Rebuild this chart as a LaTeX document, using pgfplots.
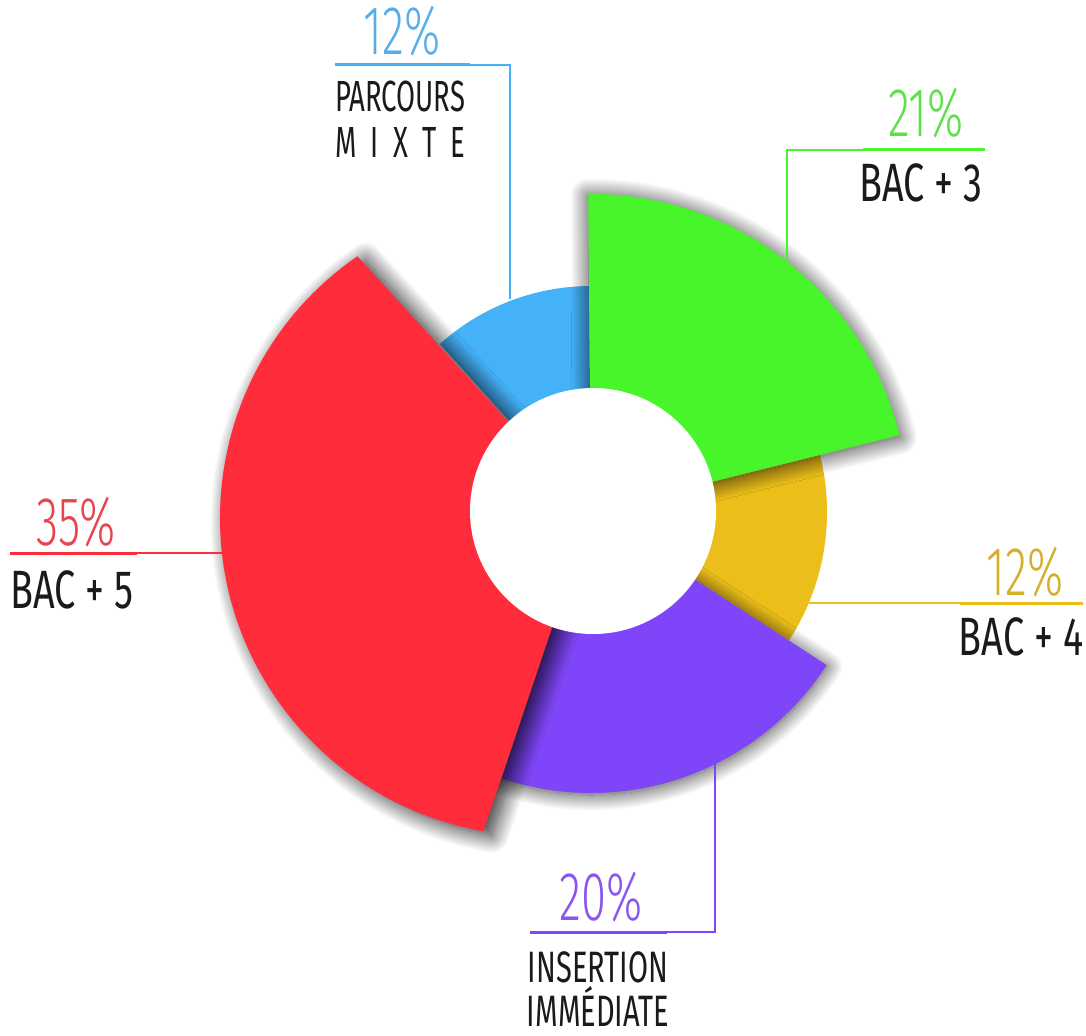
\documentclass[border=0pt]{standalone}
\usepackage{pgfplots}
\pgfplotsset{compat=1.18}
\usepackage{pgfplotstable}
\usetikzlibrary{calc,shadows.blur}
\usepackage{fontspec}
\setmainfont{Fira Sans}
\newfontfamily\pctfont{Fira Sans Light}[FakeStretch=0.66]
\newfontfamily\labfont{Fira Sans}[FakeStretch=0.7]
\newfontfamily\smfont{Fira Sans}[FakeStretch=0.63]
\newfontfamily\bfont{Fira Sans}[FakeStretch=0.66]

\definecolor{cgreen}{HTML}{48F52A}
\definecolor{cyellow}{HTML}{EBBE1A}
\definecolor{cpurple}{HTML}{7F45F8}
\definecolor{cred}{HTML}{FF2D3B}
\definecolor{cblue}{HTML}{45B1F8}
\definecolor{tgreen}{HTML}{5EE04A}
\definecolor{tyellow}{HTML}{D4B02A}
\definecolor{tpurple}{HTML}{8A55F0}
\definecolor{tred}{HTML}{E8434F}
\definecolor{tblue}{HTML}{56AEE8}
\definecolor{tdark}{HTML}{1A1A1A}

% sectors, in drawing order (pct = share shown in label)
\pgfplotstableread{
name   pct cx  cy  r   a1     a2    col     sx  sy  blur op
bac4   12  591 523 236 -33    14    cyellow 0   0   0    0
mixte  12  591 523 226 90.5   132   cblue   0   0   0    0
insert 20  591 523 281 -108.5 -33   cpurple 0   -1  8    75
bac3   21  591 523 318 14     90.5  cgreen  0   -1  9    80
bac5   35  538 517 318 124.6  260.1 cred    4   -2  9    85
}\sectors

\newcommand\drawsector[1]{%
  \pgfplotstablegetelem{#1}{cx}\of\sectors\let\scx\pgfplotsretval
  \pgfplotstablegetelem{#1}{cy}\of\sectors\let\scy\pgfplotsretval
  \pgfplotstablegetelem{#1}{r}\of\sectors\pgfmathsetmacro\sr{\pgfplotsretval*0.5}%
  \pgfplotstablegetelem{#1}{a1}\of\sectors\let\sa\pgfplotsretval
  \pgfplotstablegetelem{#1}{a2}\of\sectors\let\sb\pgfplotsretval
  \pgfplotstablegetelem{#1}{col}\of\sectors\let\scol\pgfplotsretval
  \pgfplotstablegetelem{#1}{sx}\of\sectors\let\ssx\pgfplotsretval
  \pgfplotstablegetelem{#1}{sy}\of\sectors\let\ssy\pgfplotsretval
  \pgfplotstablegetelem{#1}{blur}\of\sectors\let\sblur\pgfplotsretval
  \pgfplotstablegetelem{#1}{op}\of\sectors\let\sop\pgfplotsretval
  \ifdim\sblur pt>0pt
    \edef\sshadow{blur shadow={shadow xshift=\ssx pt, shadow yshift=\ssy pt, shadow blur radius=\sblur pt, shadow opacity=\sop, shadow blur steps=24}}%
  \else
    \def\sshadow{}%
  \fi
  \edef\doit{\noexpand\fill[\scol,\sshadow] (axis cs:591,523) -- ($(axis cs:\scx,\scy)+(\sa:\sr pt)$) arc[start angle=\sa, end angle=\sb, radius=\sr pt] -- cycle;}%
  \doit
}

\begin{document}
\begin{tikzpicture}
\begin{axis}[hide axis, clip=false, disabledatascaling,
  x=0.5pt, y=0.5pt, xmin=0, xmax=1086, ymin=0, ymax=1035, scale only axis]
\coordinate (ll) at (axis cs:0,0);
\coordinate (ur) at (axis cs:1086,1035);
\pgfplotsinvokeforeach{0,...,4}{\drawsector{#1}}
\fill[white] (axis cs:593,524) circle[radius=61.5pt];

% leader lines
\addplot[cblue, line width=0.6pt] coordinates {(470,970) (510,970) (510,736)};
\addplot[cblue, line width=1.5pt] coordinates {(335,970) (470,970)};
\addplot[cgreen, line width=0.6pt] coordinates {(863,885) (787,885) (787,773)};
\addplot[cgreen, line width=1.5pt] coordinates {(863,885) (985,885)};
\addplot[cred, line width=0.6pt] coordinates {(137,482) (222,482)};
\addplot[cred, line width=1.5pt] coordinates {(10,482) (137,482)};
\addplot[cyellow, line width=0.6pt] coordinates {(809,432) (960,432)};
\addplot[cyellow, line width=1.5pt] coordinates {(960,432) (1083,432)};
\addplot[cpurple, line width=0.6pt] coordinates {(667,103) (715,103) (715,271)};
\addplot[cpurple, line width=1.5pt] coordinates {(530,103) (667,103)};

% labels
\tikzset{pct/.style={inner sep=0pt, anchor=base, font=\pctfont\fontsize{34.5}{36}\selectfont},
         lab/.style={inner sep=0pt, anchor=base, text=tdark, font=\labfont\fontsize{27}{28}\selectfont},
         sm/.style={inner sep=0pt, anchor=base west, text=tdark, font=\smfont\fontsize{21.8}{23}\selectfont},
         bot/.style={inner sep=0pt, anchor=base, text=tdark, font=\bfont\fontsize{22}{23}\selectfont}}
\node[pct, text=tblue] at (axis cs:402,980) {12\%};
\node[sm] at (axis cs:335,923) {PARCOURS};
\node[sm] at (axis cs:335,877) {\makebox[65pt][s]{M\hfill I\hfill X\hfill T\hfill E}};
\node[pct, text=tgreen] at (axis cs:926,898) {21\%};
\node[lab] at (axis cs:921,833) {BAC + 3};
\node[pct, text=tred] at (axis cs:76,490) {35\%};
\node[lab] at (axis cs:72,427) {BAC + 5};
\node[pct, text=tyellow] at (axis cs:1025,440) {12\%};
\node[lab] at (axis cs:1021,380) {BAC + 4};
\node[pct, text=tpurple] at (axis cs:601,115) {20\%};
\node[bot] at (axis cs:598,53) {INSERTION};
\node[bot] at (axis cs:598,9) {IMMÉDIATE};
\end{axis}
\pgfresetboundingbox
\path (ll) rectangle (ur);
\end{tikzpicture}
\end{document}
